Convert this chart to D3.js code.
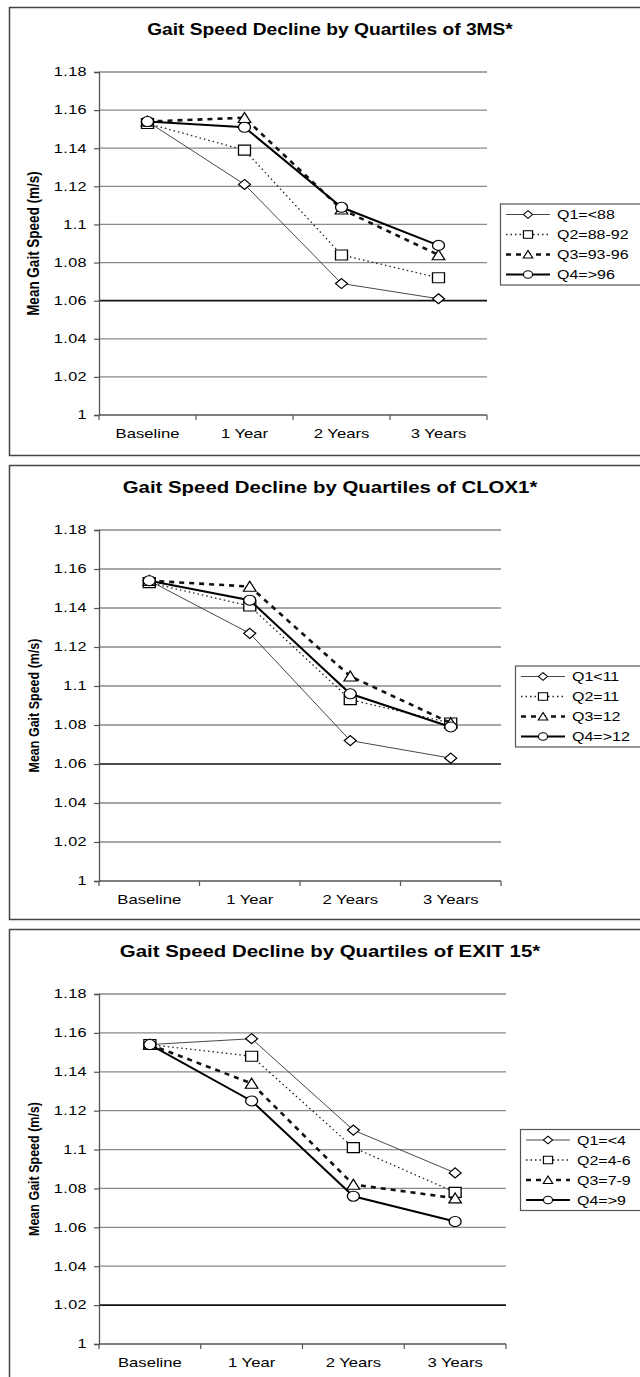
<!DOCTYPE html>
<html>
<head>
<meta charset="utf-8">
<script src="https://cdn.jsdelivr.net/npm/d3@7"></script>
<style>
  body { margin: 0; background: #fff; }
  svg { display: block; }
  text { font-family: "Liberation Sans", Arial, sans-serif; fill: #000; }
</style>
</head>
<body>
<div id="chart"></div>
<script>
const width = 640;
const height = 1377;

// x categories and y ticks shared by all three charts
const categories = ['Baseline', '1 Year', '2 Years', '3 Years'];
const yTicks = [1, 1.02, 1.04, 1.06, 1.08, 1.1, 1.12, 1.14, 1.16, 1.18];

const titles = [
    'Gait Speed Decline by Quartiles of 3MS*',
    'Gait Speed Decline by Quartiles of CLOX1*',
    'Gait Speed Decline by Quartiles of EXIT 15*'
];
const yTitle = 'Mean Gait Speed (m/s)';

// legend labels
const legend_3ms = ['Q1=<88', 'Q2=88-92', 'Q3=93-96', 'Q4=>96'];
const legend_clox = ['Q1<11', 'Q2=11', 'Q3=12', 'Q4=>12'];
const legend_exit = ['Q1=<4', 'Q2=4-6', 'Q3=7-9', 'Q4=>9'];

// 3MS quartiles
const ms_q1 = [1.154, 1.121, 1.069, 1.061];
const ms_q2 = [1.153, 1.139, 1.084, 1.072];
const ms_q3 = [1.154, 1.156, 1.108, 1.084];
const ms_q4 = [1.154, 1.151, 1.109, 1.089];

// CLOX1 quartiles
const clox_q1 = [1.154, 1.127, 1.072, 1.063];
const clox_q2 = [1.153, 1.141, 1.093, 1.081];
const clox_q3 = [1.154, 1.151, 1.105, 1.081];
const clox_q4 = [1.154, 1.144, 1.096, 1.079];

// EXIT 15 quartiles
const exit_q1 = [1.154, 1.157, 1.110, 1.088];
const exit_q2 = [1.154, 1.148, 1.101, 1.078];
const exit_q3 = [1.154, 1.134, 1.082, 1.075];
const exit_q4 = [1.154, 1.125, 1.076, 1.063];

const panelSeries = [
    [ms_q1, ms_q2, ms_q3, ms_q4],
    [clox_q1, clox_q2, clox_q3, clox_q4],
    [exit_q1, exit_q2, exit_q3, exit_q4]
];
const panelLegends = [legend_3ms, legend_clox, legend_exit];

// layout of each panel (the original was squeezed vertically, so text gets stretched in x)
const panels = [
    {top: 7, bottom: 455, plotTop: 72, plotBottom: 415, plotRight: 487, legendLeft: 500, titleSize: 16, yTitleSize: 13.5, darkGrid: 1.06},
    {top: 465, bottom: 919, plotTop: 530, plotBottom: 881, plotRight: 501, legendLeft: 515, titleSize: 17, yTitleSize: 12.5, darkGrid: 1.06},
    {top: 929, bottom: 1400, plotTop: 994, plotBottom: 1344, plotRight: 506, legendLeft: 520, titleSize: 17, yTitleSize: 12.5, darkGrid: 1.02}
];
const plotLeft = 99;
const stretch = 1.28;

const seriesStyle = [
    {marker: 'diamond', width: 0.9, dash: null, color: '#333'},
    {marker: 'square', width: 1.3, dash: '1.5,3', color: '#222'},
    {marker: 'triangle', width: 2.6, dash: '5,5', color: '#111'},
    {marker: 'circle', width: 2, dash: null, color: '#000'}
];

// marker outline, centred on 0,0, r = half size
function markerPath(type, r) {
    let p = d3.path();
    if (type === 'diamond') {
        p.moveTo(0, -r); p.lineTo(r, 0); p.lineTo(0, r); p.lineTo(-r, 0); p.closePath();
    } else if (type === 'square') {
        p.rect(-r, -r, 2 * r, 2 * r);
    } else if (type === 'triangle') {
        p.moveTo(0, -r * 1.05); p.lineTo(r * 1.05, r * 0.95); p.lineTo(-r * 1.05, r * 0.95); p.closePath();
    } else {
        p.arc(0, 0, r, 0, Math.PI * 2);
    }
    return p.toString();
}

function label(g, x, y, str, size, anchor, weight, sx) {
    return g.append('text')
        .attr('transform', `translate(${x},${y}) scale(${sx},1)`)
        .attr('text-anchor', anchor)
        .attr('font-size', size)
        .attr('font-weight', weight)
        .text(str);
}

const svg = d3.select('#chart')
    .append('svg')
    .attr('width', width)
    .attr('height', height);

svg.append('rect').attr('width', width).attr('height', height).attr('fill', '#fff');

panels.forEach(function (pan, pi) {
    let g = svg.append('g');

    // panel frame
    g.append('rect')
        .attr('x', 9.5).attr('y', pan.top + 0.5)
        .attr('width', 700).attr('height', pan.bottom - pan.top)
        .attr('fill', '#fff').attr('stroke', '#444').attr('stroke-width', 1.5);

    label(g, 330, pan.top + 28, titles[pi], pan.titleSize, 'middle', 'bold', 1.2);

    let x = d3.scaleBand()
        .domain(categories)
        .range([plotLeft, pan.plotRight]);

    let y = d3.scaleLinear()
        .domain([1, 1.18])
        .range([pan.plotBottom, pan.plotTop]);

    // gridlines
    g.selectAll('.grid')
        .data(yTicks.filter(t => t > 1))
        .enter()
        .append('line')
        .attr('x1', plotLeft).attr('x2', pan.plotRight)
        .attr('y1', d => y(d)).attr('y2', d => y(d))
        .attr('stroke', d => Math.abs(d - pan.darkGrid) < 1e-6 ? '#111' : '#8a8a8a')
        .attr('stroke-width', d => Math.abs(d - pan.darkGrid) < 1e-6 ? 1.6 : 1.3);

    // y axis
    let yAxis = g.append('g')
        .attr('transform', `translate(${plotLeft},0)`)
        .call(d3.axisLeft(y).tickValues(yTicks).tickSize(5).tickFormat(''));
    yAxis.select('.domain').attr('stroke', '#555').attr('stroke-width', 1.3);
    yAxis.selectAll('.tick line').attr('stroke', '#555').attr('stroke-width', 1.2);

    yTicks.forEach(function (t) {
        label(g, 87, y(t) + 4.3, d3.format('')(t), 12, 'end', 'normal', 1.35)
            .attr('letter-spacing', 0.3);
    });

    // x axis with ticks between categories
    let bounds = categories.map(c => x(c)).concat([pan.plotRight]);
    g.append('line')
        .attr('x1', plotLeft).attr('x2', pan.plotRight)
        .attr('y1', y(1)).attr('y2', y(1))
        .attr('stroke', '#555').attr('stroke-width', 1.3);
    g.selectAll('.xtick')
        .data(bounds)
        .enter()
        .append('line')
        .attr('x1', d => d).attr('x2', d => d)
        .attr('y1', y(1)).attr('y2', y(1) + 5)
        .attr('stroke', '#555').attr('stroke-width', 1.2);

    categories.forEach(function (c) {
        label(g, x(c) + x.bandwidth() / 2, y(1) + 23, c, 13, 'middle', 'normal', stretch);
    });

    // y axis title
    g.append('text')
        .attr('transform', `translate(39,${(pan.plotTop + pan.plotBottom) / 2}) scale(1.2,1) rotate(-90)`)
        .attr('text-anchor', 'middle')
        .attr('font-size', pan.yTitleSize)
        .attr('font-weight', 'bold')
        .text(yTitle);

    // series
    let line = d3.line()
        .x((d, i) => x(categories[i]) + x.bandwidth() / 2)
        .y(d => y(d));

    panelSeries[pi].forEach(function (vals, si) {
        let st = seriesStyle[si];
        g.append('path')
            .attr('d', line(vals))
            .attr('fill', 'none')
            .attr('stroke', st.color)
            .attr('stroke-width', st.width)
            .attr('stroke-dasharray', st.dash);

        g.selectAll(`.m${si}`)
            .data(vals)
            .enter()
            .append('path')
            .attr('transform', (d, i) => `translate(${x(categories[i]) + x.bandwidth() / 2},${y(d)}) scale(1.2,1)`)
            .attr('d', markerPath(st.marker, 5))
            .attr('fill', '#fff')
            .attr('stroke', '#000')
            .attr('stroke-width', 1.1);
    });

    // legend
    let ly = (pan.plotTop + pan.plotBottom) / 2 - 40;
    let lg = g.append('g').attr('transform', `translate(${pan.legendLeft},${ly})`);
    lg.append('rect')
        .attr('x', 0.5).attr('y', 0.5)
        .attr('width', 200).attr('height', 81)
        .attr('fill', '#fff').attr('stroke', '#555').attr('stroke-width', 1.2);

    panelLegends[pi].forEach(function (txt, si) {
        let st = seriesStyle[si];
        let ey = 11 + si * 20;
        lg.append('line')
            .attr('x1', 6).attr('x2', 50)
            .attr('y1', ey).attr('y2', ey)
            .attr('stroke', st.color)
            .attr('stroke-width', st.width)
            .attr('stroke-dasharray', st.dash);
        lg.append('path')
            .attr('transform', `translate(28,${ey}) scale(1.2,1)`)
            .attr('d', markerPath(st.marker, 3.8))
            .attr('fill', '#fff')
            .attr('stroke', '#000')
            .attr('stroke-width', 1);
        label(lg, 57, ey + 4.5, txt, 12.5, 'start', 'normal', stretch);
    });
});
</script>
</body>
</html>
